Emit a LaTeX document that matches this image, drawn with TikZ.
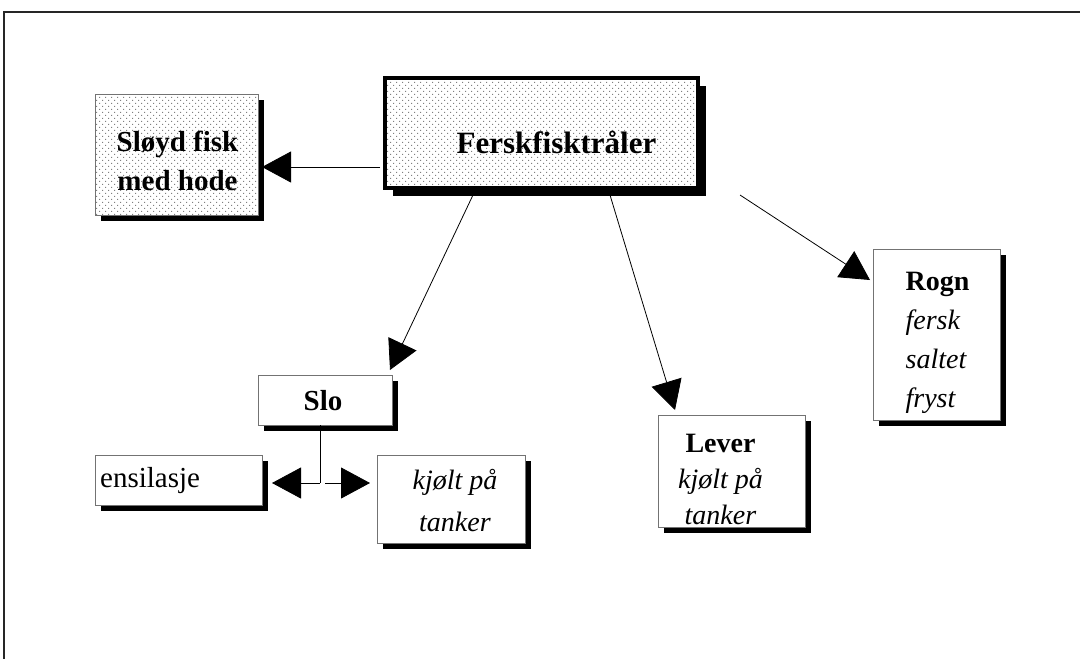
\documentclass[tikz,border=0pt]{standalone}
\usepackage{fontspec}
\setmainfont{Liberation Serif}
\usetikzlibrary{arrows.meta,patterns,backgrounds}
\pgfdeclarepatternformonly{sparsedots}{\pgfqpoint{-1pt}{-1pt}}{\pgfqpoint{7pt}{7pt}}{\pgfqpoint{6pt}{6pt}}{%
  \pgfpathrectangle{\pgfqpoint{0pt}{0pt}}{\pgfqpoint{1.1pt}{1.1pt}}%
  \pgfpathrectangle{\pgfqpoint{3pt}{3pt}}{\pgfqpoint{1.1pt}{1.1pt}}%
  \pgfusepath{fill}}
\begin{document}
\begin{tikzpicture}[x=1pt,y=-1pt,
  box/.style={draw=black!55, line width=0.9pt, fill=white, inner sep=0pt, outer sep=0pt},
  dotbox/.style={box, preaction={fill=white}, pattern=sparsedots, pattern color=black!50},
  txt/.style={inner sep=0pt, font=\fontsize{29}{39}\selectfont, align=center},
  arr/.style={draw=black, line width=0.8pt, -{Triangle[length=29pt,width=31pt]}},
  conn/.style={draw=black, line width=0.8pt}]
\useasboundingbox (0,0) rectangle (1080,659);
\draw[line width=2pt, draw=black!85] (1080,12) -- (4,12) -- (4,659);

\node[dotbox, draw=black, line width=3.5pt, minimum width=313pt, minimum height=110pt] (main) at (541.5,133) {};
\node[dotbox, minimum width=163pt, minimum height=121pt] (sl) at (176.5,154.5) {};
\node[box, minimum width=134pt, minimum height=50pt] (slo) at (325,400) {};
\node[box, minimum width=167pt, minimum height=50pt] (ens) at (178.5,480) {};
\node[box, minimum width=148pt, minimum height=88pt] (kj) at (451,499) {};
\node[box, minimum width=147pt, minimum height=112pt] (lev) at (731.5,471) {};
\node[box, minimum width=127pt, minimum height=171pt] (rogn) at (936.5,334.5) {};

\node[txt, font=\fontsize{31}{38}\selectfont] (mainT) at ([shift={(15,9)}]main.center) {\textbf{Ferskfisktråler}};
\node[txt] (slT) at ([shift={(1,6)}]sl.center) {\textbf{Sløyd fisk}\\\textbf{med hode}};
\node[txt] (sloT) at ([shift={(-2,1)}]slo.center) {\textbf{Slo}};
\node[txt, anchor=west] (ensT) at ([shift={(5,1)}]ens.west) {ensilasje};
\node[txt, font=\fontsize{28}{42}\selectfont] (kjT) at ([shift={(4,2)}]kj.center) {\textit{kjølt på}\\\textit{tanker}};
\node[txt, font=\fontsize{28}{36}\selectfont] (levT) at ([shift={(-11,8)}]lev.center) {\textbf{Lever}\\\textit{kjølt på}\\\textit{tanker}};
\node[txt, align=left, font=\fontsize{28}{39}\selectfont] (rognT) at ([shift={(1,8)}]rogn.center) {\textbf{Rogn}\\\textit{fersk}\\\textit{saltet}\\\textit{fryst}};

\begin{scope}[on background layer]
\foreach \n/\d in {main/7.5, sl/6, slo/6, ens/6, kj/6, lev/6, rogn/6}
  \fill[black] ([shift={(\d,\d)}]\n.north west) rectangle ([shift={(\d,\d)}]\n.south east);
\end{scope}

\draw[arr] ([shift={(-5,34)}]main.west) -- ([shift={(4,12.5)}]sl.east);
\draw[arr] ([shift={(-68.5,7)}]main.south) -- ([shift={(-2,-5)}]slo.north east);
\draw[arr] ([shift={(68.5,7)}]main.south) -- ([shift={(17,-5)}]lev.north west);
\draw[arr] ([shift={(198.5,7)}]main.south) -- ([shift={(-3,31)}]rogn.north west);

\coordinate (j) at ([shift={(-5,58)}]slo.south);
\draw[conn] (slo.south -| j) -- (j);
\draw[arr] (j) -- ([shift={(10,3)}]ens.east);
\draw[arr] ([shift={(5,0)}]j) -- ([shift={(-7,-16)}]kj.west);
\end{tikzpicture}
\end{document}
